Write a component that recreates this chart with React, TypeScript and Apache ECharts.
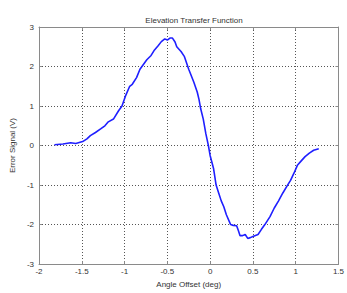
import React, { useEffect, useRef } from "react";
import * as echarts from "echarts";

const titleText = "Elevation Transfer Function";
const xLabel = "Angle Offset (deg)";
const yLabel = "Error Signal (V)";

const angle = [
  -1.82, -1.72, -1.63, -1.57, -1.49, -1.44, -1.4, -1.34, -1.28, -1.23, -1.19, -1.13, -1.07, -1.03, -0.99,
  -0.94, -0.91, -0.86, -0.82, -0.78, -0.74, -0.69, -0.65, -0.61, -0.57, -0.53, -0.5, -0.47, -0.44, -0.41,
  -0.39, -0.34, -0.3, -0.25, -0.19, -0.15, -0.13, -0.11, -0.08, -0.05, -0.02, 0.0, 0.04, 0.07, 0.1, 0.13,
  0.16, 0.19, 0.24, 0.27, 0.31, 0.33, 0.35, 0.38, 0.41, 0.44, 0.47, 0.5, 0.56, 0.6, 0.64, 0.7, 0.75, 0.8,
  0.85, 0.9, 0.94, 0.98, 1.02, 1.06, 1.11, 1.16, 1.21, 1.27,
];
const signal = [
  0.02, 0.04, 0.07, 0.05, 0.1, 0.17, 0.25, 0.33, 0.42, 0.5, 0.6, 0.67, 0.88, 1.0, 1.25,
  1.5, 1.55, 1.72, 1.93, 2.05, 2.17, 2.28, 2.42, 2.52, 2.63, 2.7, 2.67, 2.72, 2.72, 2.62,
  2.5, 2.38, 2.25, 1.93, 1.6, 1.35, 1.17, 0.93, 0.67, 0.3, 0.0, -0.25, -0.58, -1.0, -1.2, -1.4,
  -1.55, -1.75, -2.0, -2.02, -2.03, -2.15, -2.28, -2.28, -2.25, -2.35, -2.33, -2.3, -2.25, -2.12, -2.0, -1.8, -1.58, -1.4,
  -1.2, -1.02, -0.88, -0.7, -0.5, -0.4, -0.28, -0.19, -0.12, -0.08,
];

export default function App() {
  const ref = useRef<HTMLDivElement>(null);
  useEffect(() => {
    const chart = echarts.init(ref.current!, null, { renderer: "svg" });
    const font = "'Liberation Sans', Arial, sans-serif";
    const axisCommon = {
      axisLine: { show: true, onZero: false, lineStyle: { color: "#8a8a8a", width: 1 } },
      axisTick: { show: true, inside: true, length: 3, lineStyle: { color: "#8a8a8a" } },
    };
    chart.setOption({
      animation: false,
      backgroundColor: "#ffffff",
      title: {
        text: titleText,
        left: 189,
        textAlign: "center",
        top: 11,
        textStyle: { fontFamily: font, fontSize: 8, fontWeight: "normal", color: "#333" },
      },
      grid: { left: 37, top: 27, width: 304, height: 240, show: false },
      xAxis: [
        {
          type: "value",
          min: -2,
          max: 1.5,
          interval: 0.5,
          position: "bottom",
          ...axisCommon,
          axisLabel: { fontFamily: font, fontSize: 8, color: "#333", margin: 3 },
          splitLine: { show: true, lineStyle: { type: [1, 2], color: "#555", width: 1 } },
          name: xLabel,
          nameLocation: "middle",
          nameGap: 15,
          nameTextStyle: { fontFamily: font, fontSize: 8, color: "#333" },
        },
        {
          type: "value",
          min: -2,
          max: 1.5,
          interval: 0.5,
          position: "top",
          ...axisCommon,
          axisLabel: { show: false },
          splitLine: { show: false },
        },
      ],
      yAxis: [
        {
          type: "value",
          min: -3,
          max: 3,
          interval: 1,
          position: "left",
          ...axisCommon,
          axisLabel: { fontFamily: font, fontSize: 8, color: "#333", margin: 5 },
          splitLine: { show: true, lineStyle: { type: [1, 2], color: "#555", width: 1 } },
          name: yLabel,
          nameLocation: "middle",
          nameGap: 20,
          nameTextStyle: { fontFamily: font, fontSize: 8, color: "#333" },
        },
        {
          type: "value",
          min: -3,
          max: 3,
          interval: 1,
          position: "right",
          ...axisCommon,
          axisLabel: { show: false },
          splitLine: { show: false },
        },
      ],
      series: [
        {
          type: "line",
          data: angle.map((a, i) => [a, signal[i]]),
          showSymbol: false,
          lineStyle: { color: "#1f1fff", width: 1.6 },
          xAxisIndex: 0,
          yAxisIndex: 0,
        },
      ],
    });
    return () => chart.dispose();
  }, []);
  return (
    <div
      ref={ref}
      style={{ position: "fixed", left: 0, top: 0, width: 347, height: 293 }}
    />
  );
}
